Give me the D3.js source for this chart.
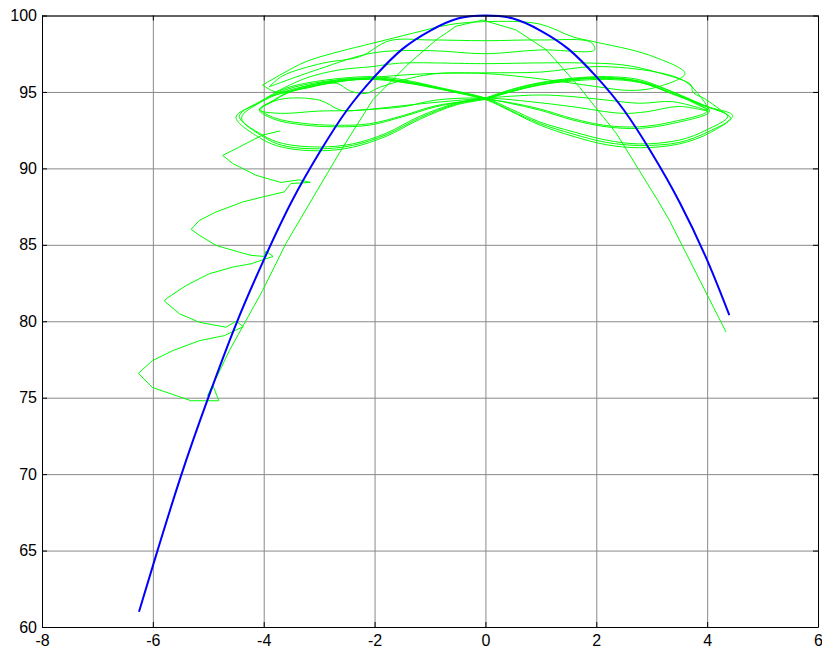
<!DOCTYPE html>
<html>
<head>
<meta charset="utf-8">
<script src="https://cdn.jsdelivr.net/npm/d3@7"></script>
<style>
  body { margin: 0; background: #fff; }
  .tick text { font-family: Arial, "Liberation Sans", sans-serif; font-size: 16px; fill: #000; }
</style>
</head>
<body>
<div id="chart"></div>
<script>
// axis ranges and tick values
var xTicks = [-8, -6, -4, -2, 0, 2, 4, 6]
var yTicks = [60, 65, 70, 75, 80, 85, 90, 95, 100]

// blue curve
var blueX = [-6.25, -6, -5.5, -5, -4.5, -4, -3.5, -3, -2.5, -2, -1.5, -1, -0.5, 0, 0.5, 1, 1.5, 2, 2.5, 3, 3.5, 4, 4.4]
var blueY = [61.0, 64.0, 69.8, 75.0, 79.8, 84.0, 87.8, 91.0, 93.8, 96.0, 97.8, 99.0, 99.8, 100, 99.8, 99.0, 97.8, 96.0, 93.8, 91.0, 87.8, 84.0, 80.4]

// green trajectory, split in pieces: the left saw-tooth spiral and thin arch
var greenSpiral = [
  [-3.70, 92.45], [-4.02, 92.18], [-4.44, 91.40], [-4.74, 90.85], [-4.56, 90.32], [-4.14, 89.55],
  [-3.69, 89.08], [-3.36, 89.25], [-3.16, 89.08], [-3.51, 89.01], [-3.63, 88.46], [-4.02, 88.13],
  [-4.38, 87.80], [-4.86, 87.15], [-5.16, 86.60], [-5.31, 86.01], [-5.16, 85.62], [-4.86, 84.96],
  [-4.44, 84.52], [-4.23, 84.31], [-3.99, 84.24], [-3.96, 84.59], [-3.83, 84.24], [-4.23, 83.76],
  [-4.56, 83.54], [-4.98, 83.11], [-5.40, 82.34], [-5.76, 81.47], [-5.79, 81.31], [-5.52, 80.49],
  [-5.16, 79.93], [-4.68, 79.61], [-4.50, 80.00], [-4.37, 79.65], [-4.71, 79.06], [-5.16, 78.73],
  [-5.64, 78.08], [-6.01, 77.42], [-6.26, 76.59], [-6.01, 75.67], [-5.31, 74.80], [-4.81, 74.80],
  [-4.92, 75.83], [-5.01, 75.13], [-4.62, 78.08], [-4.02, 82.01], [-3.60, 85.08], [-2.64, 90.98],
  [-2.03, 94.50], [-1.37, 96.90], [-0.89, 98.40], [-0.53, 99.30], [-0.05, 99.70], [0.55, 99.06],
  [1.10, 97.75], [1.70, 95.30], [2.36, 92.30], [3.11, 87.90], [3.32, 86.60], [4.34, 79.30]
]

// figure-eight laps (outer, inner, thin)
var outerLapA = [
  [0, 94.6], [0.50, 95.2], [0.97, 95.6], [1.58, 95.9], [2.18, 96.0], [2.78, 95.8], [3.38, 95.0],
  [3.90, 94.2], [4.37, 93.4], [3.98, 92.5], [3.50, 91.85], [2.78, 91.6], [2.18, 91.85], [1.58, 92.4],
  [0.97, 93.05], [0.45, 93.9], [0, 94.6], [-0.77, 95.24], [-1.49, 95.8], [-2.03, 96.0], [-2.88, 95.78],
  [-3.60, 95.24], [-4.02, 94.47], [-4.44, 93.4], [-4.02, 92.18], [-3.66, 91.63], [-3.00, 91.4],
  [-2.40, 91.6], [-1.79, 92.3], [-1.19, 93.4], [-0.53, 94.26], [0, 94.6]
]
var outerLapB = [
  [0, 94.55], [0.50, 95.15], [0.97, 95.55], [1.58, 95.85], [2.18, 95.95], [2.78, 95.7], [3.38, 94.9],
  [3.95, 94.1], [4.42, 93.3], [4.02, 92.4], [3.50, 91.7], [2.78, 91.5], [2.18, 91.7], [1.58, 92.25],
  [0.97, 92.95], [0.45, 93.8], [0, 94.55], [-0.77, 95.2], [-1.49, 95.72], [-2.03, 95.92], [-2.88, 95.7],
  [-3.60, 95.15], [-4.05, 94.35], [-4.40, 93.3], [-4.00, 92.05], [-3.66, 91.5], [-3.00, 91.28],
  [-2.40, 91.5], [-1.79, 92.2], [-1.19, 93.3], [-0.53, 94.2], [0, 94.55]
]
var outerLapC = [
  [0, 94.5], [0.50, 95.05], [0.97, 95.45], [1.58, 95.8], [2.18, 95.9], [2.78, 95.65], [3.38, 94.85],
  [3.98, 94.05], [4.46, 93.45], [4.06, 92.35], [3.50, 91.6], [2.78, 91.35], [2.18, 91.55], [1.58, 92.1],
  [0.97, 92.85], [0.45, 93.75], [0, 94.5], [-0.77, 95.15], [-1.49, 95.65], [-2.03, 95.85], [-2.88, 95.62],
  [-3.60, 95.05], [-4.10, 94.25], [-4.50, 93.35], [-4.05, 91.95], [-3.66, 91.38], [-3.00, 91.15],
  [-2.40, 91.38], [-1.79, 92.1], [-1.19, 93.2], [-0.53, 94.15], [0, 94.5]
]
var innerLapA = [
  [0, 94.6], [0.50, 95.1], [0.97, 95.5], [1.58, 95.8], [2.18, 95.9], [2.78, 95.7], [3.38, 95.0],
  [3.75, 94.35], [4.04, 93.7], [3.38, 92.94], [2.78, 92.62], [2.18, 92.72], [1.58, 93.16], [0.97, 93.82],
  [0.45, 94.25], [0, 94.6], [-0.77, 95.2], [-1.49, 95.7], [-2.09, 95.9], [-2.88, 95.65], [-3.55, 95.0],
  [-3.85, 94.4], [-4.08, 93.82], [-3.80, 93.2], [-3.30, 92.85], [-2.69, 92.72], [-2.09, 92.83],
  [-1.49, 93.38], [-0.89, 94.03], [0, 94.6]
]
var innerLapB = [
  [0, 94.55], [0.50, 95.05], [0.97, 95.45], [1.58, 95.72], [2.18, 95.82], [2.78, 95.62], [3.38, 94.9],
  [3.75, 94.3], [4.00, 93.75], [3.38, 93.05], [2.78, 92.72], [2.18, 92.8], [1.58, 93.25], [0.97, 93.9],
  [0.45, 94.3], [0, 94.55], [-0.77, 95.15], [-1.49, 95.62], [-2.09, 95.82], [-2.88, 95.58], [-3.55, 94.95],
  [-3.85, 94.35], [-4.05, 93.85], [-3.80, 93.3], [-3.30, 92.95], [-2.69, 92.82], [-2.09, 92.92],
  [-1.49, 93.45], [-0.89, 94.1], [0, 94.55]
]
var thinLap = [
  [0, 94.6], [0.97, 94.8], [1.58, 94.69], [2.18, 94.47], [2.78, 94.26], [3.38, 94.36], [4.02, 93.75],
  [3.50, 94.05], [2.90, 93.7], [2.47, 93.6], [1.58, 94.03], [0.97, 94.3], [0, 94.6], [-0.89, 94.47],
  [-1.49, 94.03], [-2.16, 93.85], [-2.60, 93.8], [-3.00, 94.47], [-3.72, 94.5], [-4.08, 93.82],
  [-3.70, 93.6], [-3.00, 93.75], [-2.27, 93.8], [-1.50, 94.1], [-0.80, 94.35], [0, 94.6]
]

// wider upper loops
var upperLap1 = [
  [-4.02, 95.45], [-3.66, 96.2], [-3.24, 96.98], [-2.64, 97.64], [-2.03, 98.19], [-1.30, 98.85],
  [-0.65, 99.4], [0, 99.6], [0.97, 99.45], [1.58, 98.6], [1.94, 98.3], [2.96, 97.4], [3.60, 96.2],
  [3.08, 95.3], [2.60, 95.1], [2.00, 95.35], [1.00, 95.85], [0, 96.2], [-1.00, 96.15], [-1.91, 95.3],
  [-2.16, 94.9], [-2.45, 95.08], [-2.69, 95.57], [-3.30, 95.2], [-3.78, 95.0], [-4.02, 95.45]
]
var upperLap2 = [
  [-3.90, 95.34], [-3.66, 96.05], [-2.94, 96.88], [-2.27, 97.3], [-1.73, 98.35], [-1.00, 98.4],
  [0, 98.35], [1.00, 98.4], [1.90, 98.25], [1.97, 97.75], [1.00, 97.75], [0, 97.5], [-1.00, 97.7],
  [-2.03, 97.55], [-3.00, 96.5], [-3.90, 95.34]
]
var upperLap3 = [
  [-3.78, 95.0], [-3.24, 95.9], [-2.64, 96.44], [-2.03, 96.66], [-1.55, 96.88], [0, 96.85],
  [0.97, 96.9], [1.70, 96.9], [2.48, 96.77], [3.08, 96.3], [3.71, 95.46], [3.74, 95.0], [3.98, 94.5],
  [4.40, 93.4]
]
var upperLap4 = [
  [-3.90, 94.7], [-3.00, 95.45], [-2.00, 95.95], [-1.00, 96.2], [0, 96.25], [1.00, 96.3],
  [2.00, 96.66], [3.08, 96.3], [3.60, 95.7], [3.90, 94.6], [4.05, 93.75]
]

var greenPaths = [greenSpiral, outerLapA, outerLapB, outerLapC, innerLapA, innerLapB, thinLap,
                  upperLap1, upperLap2, upperLap3, upperLap4]

var width = 822
var height = 652
var plotLeft = 42, plotRight = 818, plotTop = 15.5, plotBottom = 627

var svg = d3.select("#chart")
            .append("svg")
            .attr("width", width)
            .attr("height", height)

svg.append("rect")
  .attr("width", width)
  .attr("height", height)
  .attr("fill", "#fff")

var xscale = d3.scaleLinear().domain([-8, 6]).range([plotLeft, plotRight])
var yscale = d3.scaleLinear().domain([60, 100]).range([plotBottom, plotTop])

// grid lines
svg.append("g")
  .attr("transform", "translate(0," + plotBottom + ")")
  .call(d3.axisBottom(xscale).tickValues(xTicks).tickSize(-(plotBottom - plotTop)).tickFormat(""))
  .call(g => g.select(".domain").remove())
  .selectAll("line").attr("stroke", "#8a8a8a")

svg.append("g")
  .attr("transform", "translate(" + plotLeft + ",0)")
  .call(d3.axisLeft(yscale).tickValues(yTicks).tickSize(-(plotRight - plotLeft)).tickFormat(""))
  .call(g => g.select(".domain").remove())
  .selectAll("line").attr("stroke", "#8a8a8a")

var line = d3.line()
  .x(d => xscale(d[0]))
  .y(d => yscale(d[1]))

// green trajectory
svg.selectAll(".green")
  .data(greenPaths)
  .enter()
  .append("path")
  .attr("class", "green")
  .attr("d", (d, i) => i == 0 ? line.curve(d3.curveLinear)(d) : line.curve(d3.curveCatmullRom.alpha(0.5))(d))
  .attr("fill", "none")
  .attr("stroke", "#00ff00")
  .attr("stroke-width", 1)

// blue curve
var blueData = blueX.map((x, i) => [x, blueY[i]])
svg.append("path")
  .attr("d", line.curve(d3.curveNatural)(blueData))
  .attr("fill", "none")
  .attr("stroke", "#0000ff")
  .attr("stroke-width", 2)

// axes with inward ticks on all four sides
var fmt = d => String(d)
svg.append("g")
  .attr("transform", "translate(0," + plotBottom + ")")
  .call(d3.axisBottom(xscale).tickValues(xTicks).tickSizeInner(-5).tickSizeOuter(0).tickPadding(8).tickFormat(fmt))

svg.append("g")
  .attr("transform", "translate(0," + plotTop + ")")
  .call(d3.axisTop(xscale).tickValues(xTicks).tickSizeInner(-5).tickSizeOuter(0).tickFormat(""))

svg.append("g")
  .attr("transform", "translate(" + plotLeft + ",0)")
  .call(d3.axisLeft(yscale).tickValues(yTicks).tickSizeInner(-5).tickSizeOuter(0).tickPadding(5).tickFormat(fmt))

svg.append("g")
  .attr("transform", "translate(" + plotRight + ",0)")
  .call(d3.axisRight(yscale).tickValues(yTicks).tickSizeInner(-5).tickSizeOuter(0).tickFormat(""))

svg.selectAll(".domain").attr("stroke", "#000")
</script>
</body>
</html>
